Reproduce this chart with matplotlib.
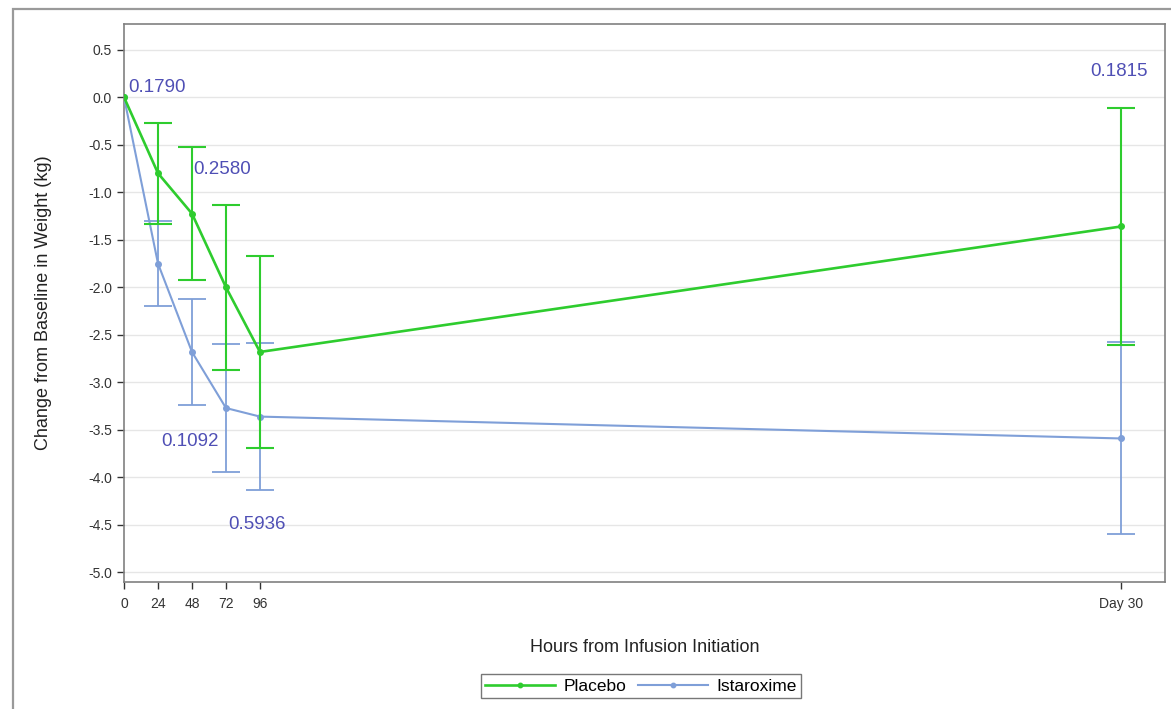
import matplotlib
matplotlib.use("Agg")
import matplotlib.pyplot as plt
from matplotlib.patches import Rectangle
import numpy as np

plt.rcParams['font.family'] = ['Liberation Sans', 'DejaVu Sans']

# Data
hours = [0, 24, 48, 72, 96, 704]
tick_labels = ['0', '24', '48', '72', '96', 'Day 30']
placebo_mean = [0.0, -0.80, -1.225, -2.00, -2.68, -1.36]
placebo_err = [0.0, 0.53, 0.70, 0.87, 1.01, 1.25]
istar_mean = [0.0, -1.75, -2.68, -3.27, -3.36, -3.59]
istar_err = [0.0, 0.45, 0.56, 0.67, 0.77, 1.01]
pvals = ['0.1790', '0.2580', '0.1092', '0.5936', '0.1815']
pval_x = [3, 49, 26, 73.5, 682]
pval_y = [0.10, -0.76, -3.62, -4.50, 0.27]

green = '#2ecc2e'
blue = '#7f9fd8'
ptxt = '#4f4fb5'

fig = plt.figure(figsize=(11.71, 7.09), dpi=100)
W, H = 1171, 709
ax = fig.add_axes([124 / W, 1 - 582 / H, (1165 - 124) / W, (582 - 24) / H])

# outer frame
fig.patches.append(Rectangle((13 / W, -0.05), 1.2, 1 - 9 / H + 0.05, transform=fig.transFigure,
                             fill=False, edgecolor='#9a9a9a', linewidth=1.6))

ax.errorbar(hours[1:], istar_mean[1:], yerr=istar_err[1:], fmt='none', ecolor=blue,
            elinewidth=1.3, capsize=10, capthick=1.3, zorder=2)
ax.plot(hours, istar_mean, color=blue, linewidth=1.5, marker='o', markersize=4, zorder=3,
        label='Istaroxime')
ax.errorbar(hours[1:], placebo_mean[1:], yerr=placebo_err[1:], fmt='none', ecolor=green,
            elinewidth=1.5, capsize=10, capthick=1.5, zorder=4)
ax.plot(hours, placebo_mean, color=green, linewidth=1.9, marker='o', markersize=4, zorder=5,
        label='Placebo')

for t, x, y in zip(pvals, pval_x, pval_y):
    ax.text(x, y, t, color=ptxt, fontsize=13.5, ha='left', va='center', zorder=6)

ax.set_xlim(0, 735)
ax.set_ylim(-5.1, 0.77)
ax.set_yticks(np.arange(-5.0, 0.51, 0.5))
ax.set_yticklabels([f'{v:.1f}' for v in np.arange(-5.0, 0.51, 0.5)])
ax.set_xticks(hours)
ax.set_xticklabels(tick_labels)
ax.tick_params(axis='both', labelsize=10, colors='#333333', length=5, width=1, direction='out')
ax.tick_params(axis='x', pad=6)
ax.grid(axis='y', color='#e6e6e6', linewidth=1)
ax.set_axisbelow(True)
for s in ax.spines.values():
    s.set_color('#808080')
    s.set_linewidth(1.2)

ax.set_ylabel('Change from Baseline in Weight (kg)', fontsize=13, color='#222222', labelpad=26)
ax.set_xlabel('Hours from Infusion Initiation', fontsize=13, color='#222222', labelpad=20)

handles, labels = ax.get_legend_handles_labels()
leg = fig.legend(handles[::-1], labels[::-1], loc='center', bbox_to_anchor=(641 / W, 1 - 686 / H),
                 ncol=2, fontsize=12.5, frameon=True, fancybox=False, edgecolor='#555555',
                 handlelength=4.0, columnspacing=0.7, borderpad=0.25, handletextpad=0.5,
                 markerscale=0.8, borderaxespad=0)
leg.get_frame().set_linewidth(1.0)

fig.savefig('out.png', dpi=100)
